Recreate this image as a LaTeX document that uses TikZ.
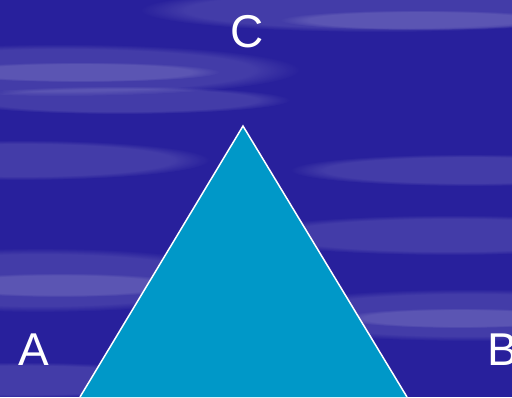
\documentclass[tikz,border=0pt]{standalone}
\usepackage{fontspec}
\setmainfont{Liberation Sans}
\usepackage{xcolor}
\usetikzlibrary{positioning,calc,fadings}
\definecolor{skyblue}{RGB}{40,32,156}
\definecolor{triblue}{RGB}{0,152,200}

\begin{document}
\begin{tikzpicture}[x=1pt, y=-1pt,
  corner/.style={text=white, font=\fontsize{46}{54}\selectfont, inner sep=0pt},
  streak/.style={fill=white, opacity=0.13, path fading=circle with fuzzy edge 20 percent}]
\clip (0,0) rectangle (512,397);
\fill[skyblue] (0,0) rectangle (512,397);
% cloud streaks
\fill[streak] (380,10) ellipse (240 and 22);
\fill[streak] (420,20) ellipse (140 and 10);
\fill[streak] (60,70) ellipse (240 and 26);
\fill[streak] (80,72) ellipse (140 and 10);
\fill[streak] (120,100) ellipse (170 and 14);
\fill[streak] (20,160) ellipse (190 and 20);
\fill[streak] (470,170) ellipse (180 and 16);
\fill[streak] (450,235) ellipse (210 and 20);
\fill[streak] (40,280) ellipse (220 and 32);
\fill[streak] (60,285) ellipse (130 and 12);
\fill[streak] (470,315) ellipse (230 and 26);
\fill[streak] (460,318) ellipse (120 and 10);
\fill[streak] (20,380) ellipse (180 and 18);
\coordinate (apex) at (243,126);
\coordinate (baseL) at (80,397);
\coordinate (baseR) at (407,397);
\filldraw[fill=triblue, draw=white, line width=1.5pt] (baseL) -- (apex) -- (baseR);
\node[corner] (labelA) at (34,350) {A};
\node[corner] (labelB) at (503,350) {B};
\node[corner] (labelC) at (247,32) {C};
\end{tikzpicture}
\end{document}
